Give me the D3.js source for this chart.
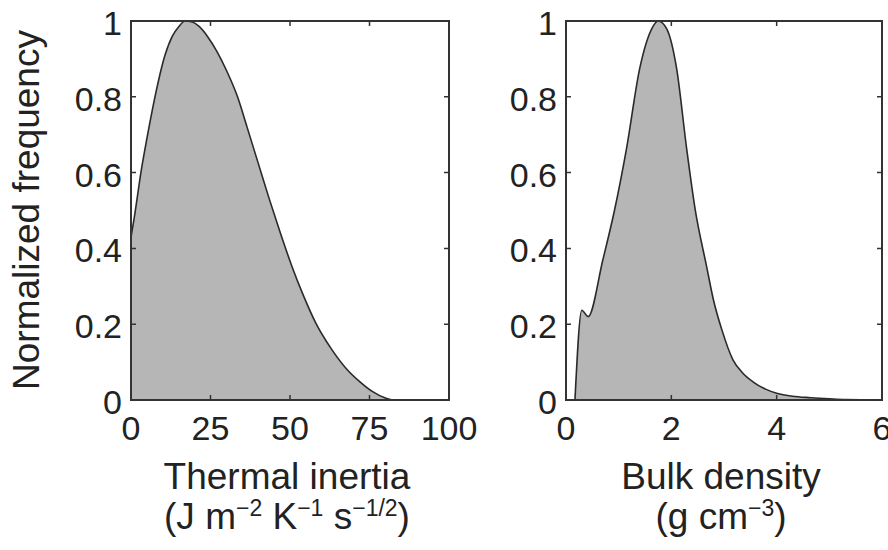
<!DOCTYPE html>
<html>
<head>
<meta charset="utf-8">
<script src="https://cdn.jsdelivr.net/npm/d3@7/dist/d3.min.js"></script>
<style>
    body { margin: 0; background: #fff; }
    text { font-family: "Liberation Sans", Arial, sans-serif; fill: #222; }
</style>
</head>
<body>
<div id="chart"></div>
<script>
// Tick values shared by both panels
const yTicks = [0, 0.2, 0.4, 0.6, 0.8, 1];
const yTickLabels = ["0", "0.2", "0.4", "0.6", "0.8", "1"];
const inertiaTicks = [0, 25, 50, 75, 100];
const densityTicks = [0, 2, 4, 6];

// Thermal inertia distribution
const inertiaX = [0, 1, 3.3, 5, 7.3, 10.7, 13, 15, 17, 19, 21.5, 24, 27, 30, 33.5, 36.5, 40, 43.5, 47, 50.5, 54, 58, 63, 68, 72, 76, 80, 82.5, 100];
const inertiaY = [0.43, 0.48, 0.61, 0.69, 0.79, 0.91, 0.96, 0.985, 1, 0.998, 0.985, 0.96, 0.92, 0.87, 0.8, 0.72, 0.625, 0.53, 0.44, 0.355, 0.28, 0.205, 0.135, 0.08, 0.048, 0.022, 0.005, 0, 0];

// Bulk density distribution
const densityX = [0.17, 0.3, 0.42, 0.7, 0.92, 1.15, 1.4, 1.63, 1.75, 1.91, 2.1, 2.29, 2.45, 2.67, 2.8, 2.96, 3.17, 3.35, 3.55, 3.8, 4.0, 4.3, 4.65, 5.0, 5.3, 6];
const densityY = [0, 0.237, 0.22, 0.37, 0.5, 0.664, 0.875, 0.98, 1, 0.98, 0.875, 0.664, 0.505, 0.352, 0.264, 0.185, 0.106, 0.072, 0.048, 0.028, 0.018, 0.01, 0.006, 0.003, 0.001, 0];

const size = {width: 888, height: 550};
const plotTop = 21;
const plotBottom = 400;

const panels = [
    {
        left: 131, right: 449,
        domain: [0, 100],
        ticks: inertiaTicks,
        xs: inertiaX, ys: inertiaY,
        title: "Thermal inertia",
        unit: [["(J m", false], ["\u22122", true], [" K", false], ["\u22121", true], [" s", false], ["\u22121/2", true], [")", false]],
    },
    {
        left: 566, right: 882,
        domain: [0, 6],
        ticks: densityTicks,
        xs: densityX, ys: densityY,
        title: "Bulk density",
        unit: [["(g cm", false], ["\u22123", true], [")", false]],
    },
];

function main() {
    const svg = d3.select("#chart")
        .append("svg")
        .attr("width", size.width)
        .attr("height", size.height);

    const y = d3.scaleLinear().domain([0, 1]).range([plotBottom, plotTop]);

    panels.forEach((p) => {
        const x = d3.scaleLinear().domain(p.domain).range([p.left, p.right]);
        const points = p.xs.map((v, i) => [v, p.ys[i]]);
        const g = svg.append("g");

        const area = d3.area()
            .x((d) => x(d[0]))
            .y0(y(0))
            .y1((d) => y(d[1]))
            .curve(d3.curveMonotoneX);

        const line = d3.line()
            .x((d) => x(d[0]))
            .y((d) => y(d[1]))
            .curve(d3.curveMonotoneX);

        g.append("path")
            .datum(points)
            .attr("d", area)
            .attr("fill", "#b5b6b5");

        g.append("path")
            .datum(points)
            .attr("d", line)
            .attr("fill", "none")
            .attr("stroke", "#2a2a2a")
            .attr("stroke-width", 1.6);

        // Box with inward ticks on all sides
        g.append("rect")
            .attr("x", p.left)
            .attr("y", plotTop)
            .attr("width", p.right - p.left)
            .attr("height", plotBottom - plotTop)
            .attr("fill", "none")
            .attr("stroke", "#333")
            .attr("stroke-width", 2);

        const tickLen = 5;
        g.selectAll(".ytick")
            .data(yTicks)
            .enter()
            .append("path")
            .attr("d", (d) => `M${p.left},${y(d)}h${tickLen}M${p.right},${y(d)}h${-tickLen}`)
            .attr("stroke", "#333")
            .attr("stroke-width", 1.5);

        g.selectAll(".xtick")
            .data(p.ticks)
            .enter()
            .append("path")
            .attr("d", (d) => `M${x(d)},${plotBottom}v${-tickLen}M${x(d)},${plotTop}v${tickLen}`)
            .attr("stroke", "#333")
            .attr("stroke-width", 1.5);

        g.selectAll(".ylabel")
            .data(yTicks)
            .enter()
            .append("text")
            .attr("x", p.left - 9)
            .attr("y", (d) => y(d) + 14)
            .attr("text-anchor", "end")
            .attr("font-size", 34)
            .text((d, i) => yTickLabels[i]);

        g.selectAll(".xlabel")
            .data(p.ticks)
            .enter()
            .append("text")
            .attr("x", (d) => x(d))
            .attr("y", 440)
            .attr("text-anchor", "middle")
            .attr("font-size", 34)
            .text((d) => d);

        const cx = (p.left + p.right) / 2;
        g.append("text")
            .attr("x", cx - 3)
            .attr("y", 489)
            .attr("text-anchor", "middle")
            .attr("font-size", 37)
            .text(p.title);

        const unit = g.append("text")
            .attr("x", cx - 3)
            .attr("y", 529)
            .attr("text-anchor", "middle")
            .attr("font-size", 37);

        p.unit.forEach(([s, sup], i) => {
            const prevSup = i > 0 && p.unit[i - 1][1];
            unit.append("tspan")
                .attr("font-size", sup ? 23 : 37)
                .attr("dy", sup ? -13 : (prevSup ? 13 : 0))
                .text(s);
        });
    });

    svg.append("text")
        .attr("transform", "translate(39,210) rotate(-90)")
        .attr("text-anchor", "middle")
        .attr("font-size", 37)
        .text("Normalized frequency");
}

main();
</script>
</body>
</html>
